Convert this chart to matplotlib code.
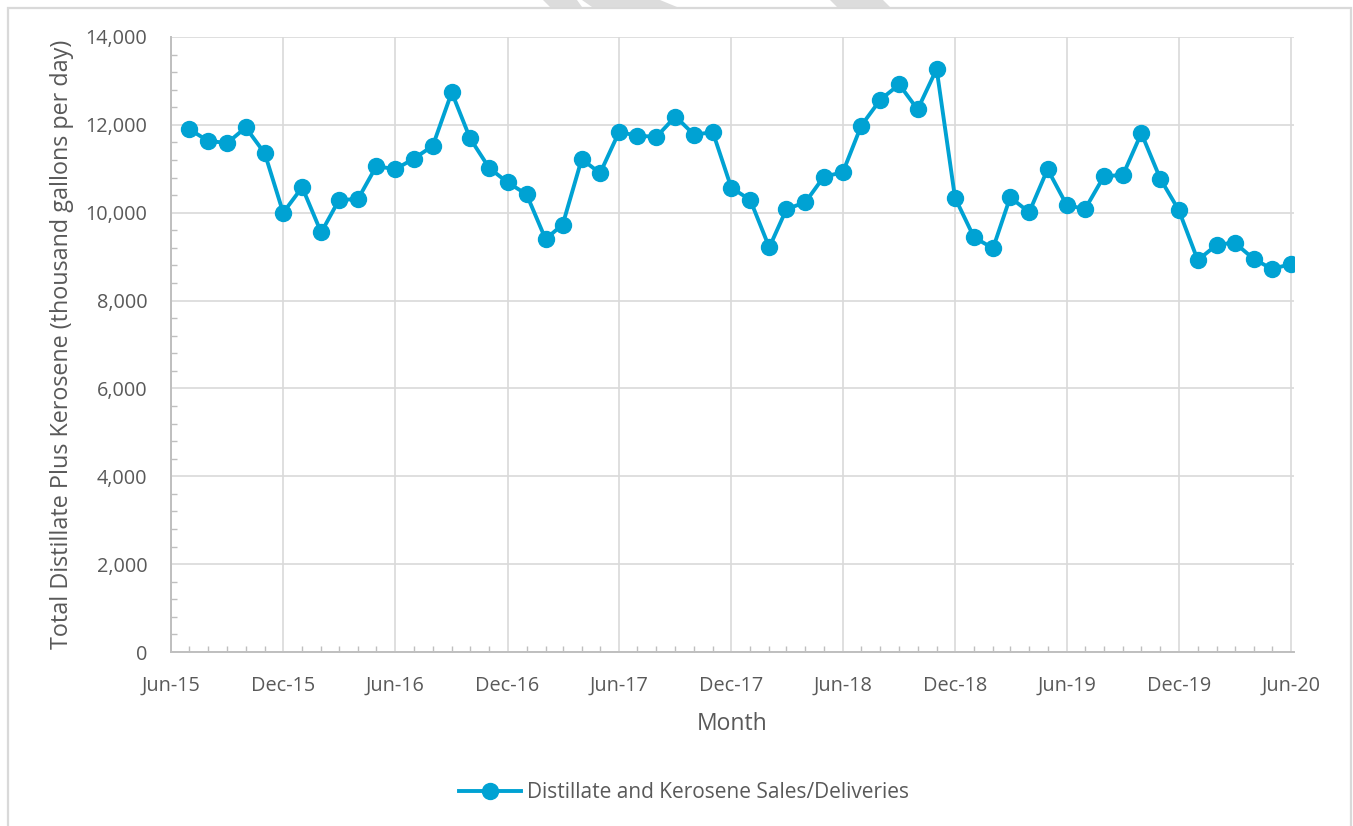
import matplotlib
matplotlib.use("Agg")
import matplotlib.pyplot as plt
import matplotlib.dates as mdates
from matplotlib.patches import Rectangle, Polygon
from matplotlib.ticker import MultipleLocator, FuncFormatter
import pandas as pd

plt.rcParams["font.family"] = ["Open Sans", "DejaVu Sans"]

# monthly sales, Jul-15 .. Jun-20 (thousand gallons per day)
months = pd.date_range("2015-07-01", "2020-06-01", freq="MS")
sales = [
    11900, 11630, 11590, 11940, 11350, 10000, 10580, 9550, 10290, 10310,
    11060, 10990, 11230, 11520, 12740, 11690, 11020, 10690, 10420, 9400,
    9730, 11220, 10900, 11840, 11750, 11730, 12190, 11780, 11830, 10570,
    10290, 9210, 10080, 10240, 10820, 10920, 11980, 12570, 12920, 12350,
    13270, 10340, 9440, 9190, 10350, 10010, 10990, 10180, 10080, 10830,
    10860, 11810, 10770, 10060, 8920, 9270, 9320, 8950, 8720, 8830,
]
series_label = "Distillate and Kerosene Sales/Deliveries"
x_label = "Month"
y_label = "Total Distillate Plus Kerosene (thousand gallons per day)"

BLUE = "#00a2d3"
GRID = "#d9d9d9"
AXIS = "#bfbfbf"
TEXT = "#595959"

W, H = 1353, 826
fig = plt.figure(figsize=(W / 100, H / 100), dpi=100)

# chart border (bottom edge runs off the image, as in the source)
fig.patches.append(Rectangle((8 / W, -0.05), (1351 - 8) / W, 1.05 - 8 / H,
                             transform=fig.transFigure, fill=False,
                             edgecolor=GRID, linewidth=1.6))
# bits of the page watermark peeking in at the top
for pts in ([(543, 0), (577, 0), (582, 7), (550, 7)],
            [(582, 0), (660, 0), (677, 7), (592, 7)],
            [(830, 0), (883, 0), (890, 7), (837, 7)]):
    fig.patches.append(Polygon([(x / W, 1 - y / H) for x, y in pts], closed=True,
                               transform=fig.transFigure, facecolor="#dcdcdc",
                               edgecolor="none"))

ax = fig.add_axes([171 / W, 1 - 652 / H, (1294 - 171) / W, (652 - 37) / H])
ax.plot(months, sales, color=BLUE, linewidth=2.8, marker="o", markersize=11.5,
        label=series_label, zorder=3)

ax.set_xlim(pd.Timestamp("2015-06-01"), pd.Timestamp("2020-06-06"))
ax.set_ylim(0, 14000)

ax.xaxis.set_major_locator(mdates.MonthLocator(bymonth=[6, 12]))
ax.xaxis.set_minor_locator(mdates.MonthLocator())
ax.xaxis.set_major_formatter(mdates.DateFormatter("%b-%y"))
ax.yaxis.set_major_locator(MultipleLocator(2000))
ax.yaxis.set_minor_locator(MultipleLocator(400))
ax.yaxis.set_major_formatter(FuncFormatter(lambda v, _: f"{v:,.0f}"))

ax.grid(True, which="major", color=GRID, linewidth=1.2)
ax.set_axisbelow(True)
for side in ("top", "right"):
    ax.spines[side].set_visible(False)
for side in ("left", "bottom"):
    ax.spines[side].set_color(AXIS)
    ax.spines[side].set_linewidth(1.4)

ax.tick_params(which="major", length=0, labelsize=14.3, labelcolor=TEXT)
ax.tick_params(axis="y", which="major", pad=17)
ax.tick_params(axis="x", which="major", pad=17)
ax.tick_params(which="minor", direction="in", length=4, width=1, color=AXIS)

ax.set_xlabel(x_label, fontsize=16.5, color=TEXT, labelpad=12)
ax.set_ylabel(y_label, fontsize=16.8, color=TEXT, labelpad=8)

fig.legend(loc="center", bbox_to_anchor=(684 / W, 1 - 793 / H), frameon=False,
           fontsize=15, labelcolor=TEXT, handlelength=3.0, handletextpad=0.3)

fig.savefig("out.png", dpi=100)
